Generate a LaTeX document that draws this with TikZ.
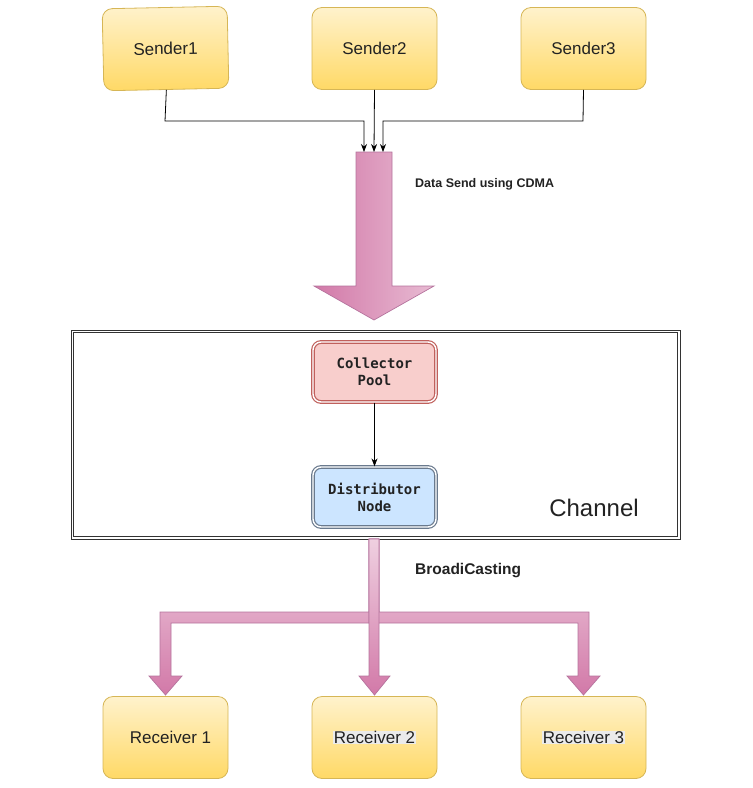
\documentclass[tikz,border=0pt]{standalone}
\usepackage{fontspec}
\setmainfont{Liberation Sans}
\newfontfamily\monofam{DejaVu Sans Mono}
\usetikzlibrary{arrows.meta}
\definecolor{ytop}{HTML}{FFF2CC}
\definecolor{ybot}{HTML}{FFD966}
\definecolor{yborder}{HTML}{D6B656}
\definecolor{pinkdark}{HTML}{D279A8}
\definecolor{pinklight}{HTML}{E8BBD3}
\definecolor{pinkborder}{HTML}{B5739D}
\definecolor{redfill}{HTML}{F8CECC}
\definecolor{redborder}{HTML}{C0605C}
\definecolor{bluefill}{HTML}{CCE5FF}
\definecolor{blueborder}{HTML}{6A7A8E}
\definecolor{txt}{HTML}{222222}
\tikzset{
  ybox/.style={draw=yborder, line width=0.8pt, rounded corners=10pt, top color=ytop, bottom color=ybot,
    minimum width=125pt, minimum height=82pt, inner sep=0pt, text=txt, font=\fontsize{17}{20}\selectfont},
  innerbox/.style={rounded corners=8pt, double, double distance=1.4pt, line width=1.2pt,
    minimum width=123pt, minimum height=60pt, inner sep=0pt, align=center, text=txt,
    font=\monofam\bfseries\fontsize{14}{17}\selectfont},
  conn/.style={draw=black, line width=0.8pt, -{Stealth[length=8pt,width=6pt]}},
  fatarrow/.style={draw=pinkborder, line width=0.7pt, line join=miter},
  lbl/.style={anchor=west, inner sep=0pt, text=txt, font=\bfseries\fontsize{12.5}{15}\selectfont},
  chanline/.style={draw=black!80, line width=1pt},
}
\begin{document}
\begin{tikzpicture}[x=1pt,y=-1pt]
\useasboundingbox (0,0) rectangle (753,788);

% senders
\node[ybox, rotate=1.2] (s1) at (165.5,48.5) {Sender1};
\node[ybox] (s2) at (374.5,48.5) {Sender2};
\node[ybox] (s3) at (583.5,48.5) {Sender3};

% big arrow
\draw[fatarrow, left color=pinkdark, right color=pinklight]
  (356,152) -- (392,152) -- (392,286) -- (434,286) -- (374,320) -- (314,286) -- (356,286) -- cycle;
\coordinate (t1) at (364,152);
\coordinate (t2) at (374,152);
\coordinate (t3) at (383,152);
\draw[conn] (s1.south) -- (165,121) -- (364,121) -- (t1);
\draw[conn] (s2.south) -- (t2);
\draw[conn] (s3.south) -- (583,121) -- (383,121) -- (t3);
\node[lbl] (cdma) at (415,184) {Data Send using CDMA};

% channel
\node[chanline, minimum width=609pt, minimum height=209pt, inner sep=0pt] (chan) at (375.5,434.5) {};
\draw[chanline] ([shift={(3,3)}]chan.north west) rectangle ([shift={(-3,-3)}]chan.south east);
\node[text=txt, font=\fontsize{24}{28}\selectfont, inner sep=0pt] (chl) at (594,508) {Channel};
\node[innerbox, draw=redborder, fill=redfill] (cp) at (374.5,372) {Collector\\Pool};
\node[innerbox, draw=blueborder, fill=bluefill] (dn) at (374.5,497) {Distributor\\Node};
\draw[conn] (cp.south) -- (dn.north);

% broadcasting arrows
\draw[fatarrow, top color=pinklight!70!white, bottom color=pinkdark]
  (369,539) -- (379,539) -- (379,623) -- (171,623) -- (171,676) -- (182,676) -- (165.5,695)
  -- (149,676) -- (160,676) -- (160,612) -- (369,612) -- cycle;
\draw[fatarrow, top color=pinklight!70!white, bottom color=pinkdark]
  (379,539) -- (369,539) -- (369,623) -- (578,623) -- (578,676) -- (567,676) -- (583.5,695)
  -- (600,676) -- (589,676) -- (589,612) -- (379,612) -- cycle;
\draw[fatarrow, top color=pinklight!70!white, bottom color=pinkdark]
  (369,539) -- (379,539) -- (379,676) -- (390,676) -- (374.5,695) -- (359,676) -- (369,676) -- cycle;
\node[lbl, font=\bfseries\fontsize{15.5}{18}\selectfont] (bc) at (415,571) {BroadiCasting};

% receivers
\setlength{\fboxsep}{0.6pt}
\node[ybox] (r1) at (165.5,737.5) {\hspace*{10pt}Receiver 1};
\node[ybox] (r2) at (374.5,737.5) {\colorbox{white!92!black}{Receiver 2}};
\node[ybox] (r3) at (583.5,737.5) {\colorbox{white!92!black}{Receiver 3}};
\end{tikzpicture}
\end{document}
